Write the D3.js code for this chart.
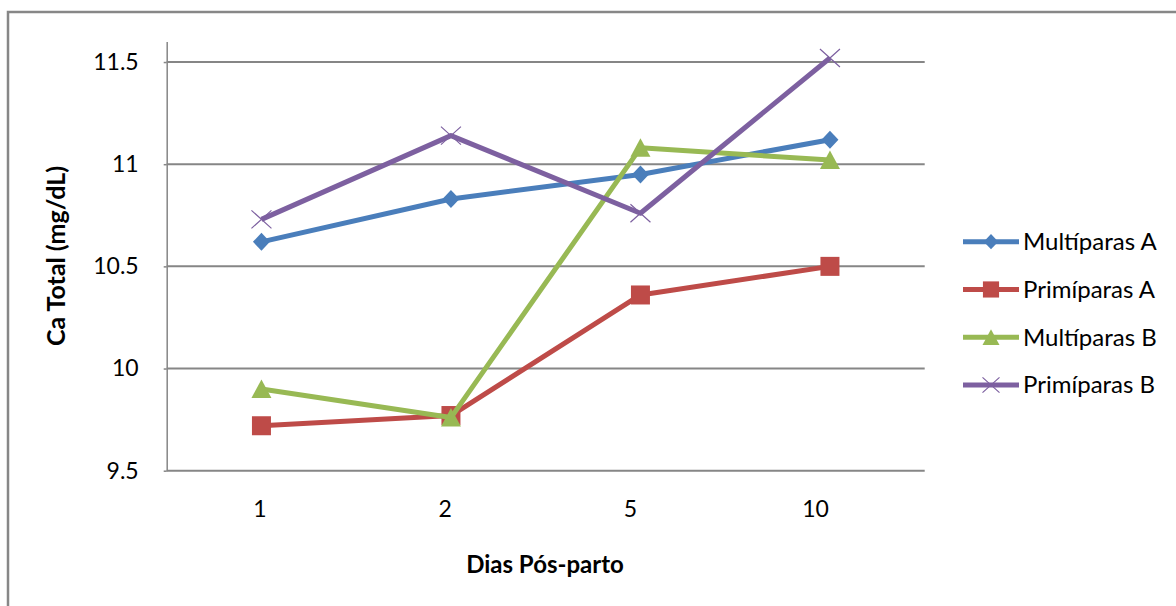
<!DOCTYPE html>
<html>
<head>
<meta charset="utf-8">
<script src="https://cdn.jsdelivr.net/npm/d3@7"></script>
<style>
  html, body { margin: 0; padding: 0; background: #fff; }
  svg { display: block; }
  text { font-family: Lato, "Open Sans", sans-serif; fill: #000; }
</style>
</head>
<body>
<svg id="chart" width="1176" height="606"></svg>
<script>
// Days after calving (categories)
const days = ["1", "2", "5", "10"];

// Total Ca (mg/dL) per group
const multiparasA = [10.62, 10.83, 10.95, 11.12];
const primiparasA = [9.72, 9.77, 10.36, 10.50];
const multiparasB = [9.90, 9.76, 11.08, 11.02];
const primiparasB = [10.73, 11.14, 10.76, 11.52];

const seriesNames = ["Multíparas A", "Primíparas A", "Multíparas B", "Primíparas B"];
const yTicks = [9.5, 10, 10.5, 11, 11.5];
const yTickLabels = ["9.5", "10", "10.5", "11", "11.5"];

const series = [
  { name: seriesNames[0], values: multiparasA, color: "#4A7EBB", marker: "diamond" },
  { name: seriesNames[1], values: primiparasA, color: "#BE4B48", marker: "square" },
  { name: seriesNames[2], values: multiparasB, color: "#98B954", marker: "triangle" },
  { name: seriesNames[3], values: primiparasB, color: "#7D60A0", marker: "x" }
];

const svg = d3.select("#chart");
const plot = { left: 166.7, right: 924.7, top: 41.6, bottom: 470.7 };
const gridColor = "#868686";

// outer chart frame
svg.append("rect")
  .attr("x", 8).attr("y", 12)
  .attr("width", 1300).attr("height", 800)
  .attr("fill", "none")
  .attr("stroke", "#878787")
  .attr("stroke-width", 2.5);

const x = d3.scalePoint().domain(days).range([plot.left, plot.right]).padding(0.5);
const xLabels = d3.scalePoint().domain(days).range([plot.left, plot.left + 741]).padding(0.5);
const y = d3.scaleLinear().domain([9.5, 11.6]).range([plot.bottom, plot.top]);

// horizontal gridlines
svg.append("g")
  .selectAll("line")
  .data(yTicks.filter(t => t > 9.5))
  .join("line")
  .attr("x1", plot.left).attr("x2", plot.right)
  .attr("y1", d => y(d)).attr("y2", d => y(d))
  .attr("stroke", gridColor)
  .attr("stroke-width", 2);

// value axis
const yAxis = d3.axisLeft(y)
  .tickValues(yTicks)
  .tickFormat((d, i) => yTickLabels[i])
  .tickSize(3)
  .tickPadding(25)
  .tickSizeOuter(0);
const gy = svg.append("g").attr("transform", `translate(${plot.left},0)`).call(yAxis);
gy.select(".domain").attr("stroke", gridColor).attr("stroke-width", 1.5);
gy.selectAll(".tick line").attr("stroke", gridColor).attr("stroke-width", 1.5);
gy.selectAll(".tick text").attr("font-size", 23).attr("fill", "#000");

// category axis
svg.append("line")
  .attr("x1", plot.left).attr("x2", plot.right)
  .attr("y1", plot.bottom).attr("y2", plot.bottom)
  .attr("stroke", gridColor).attr("stroke-width", 2);

const xAxis = d3.axisBottom(xLabels).tickSize(0).tickPadding(30).tickSizeOuter(0);
const gx = svg.append("g").attr("transform", `translate(0,${plot.bottom})`).call(xAxis);
gx.select(".domain").remove();
gx.selectAll(".tick text").attr("font-size", 23).attr("fill", "#000");

// axis titles
svg.append("text")
  .attr("x", 545).attr("y", 573)
  .attr("text-anchor", "middle")
  .attr("font-size", 24).attr("font-weight", "bold")
  .text("Dias Pós-parto");

svg.append("text")
  .attr("transform", "translate(65,256) rotate(-90)")
  .attr("text-anchor", "middle")
  .attr("font-size", 25).attr("font-weight", "bold")
  .text("Ca Total (mg/dL)");

// marker shapes
function drawMarker(g, type, color, s) {
  if (type === "diamond") {
    g.append("path")
      .attr("d", `M0,${-9 * s}L${8.5 * s},0L0,${9 * s}L${-8.5 * s},0Z`)
      .attr("fill", color);
  } else if (type === "square") {
    g.append("rect")
      .attr("x", -9.5 * s).attr("y", -9.5 * s)
      .attr("width", 19 * s).attr("height", 19 * s)
      .attr("fill", color);
  } else if (type === "triangle") {
    g.append("path")
      .attr("d", `M0,${-9.5 * s}L${10 * s},${9 * s}L${-10 * s},${9 * s}Z`)
      .attr("fill", color);
  } else if (type === "x") {
    g.append("path")
      .attr("d", `M${-10 * s},${-9 * s}L${10 * s},${9 * s}M${10 * s},${-9 * s}L${-10 * s},${9 * s}`)
      .attr("stroke", color)
      .attr("stroke-width", 1.2)
      .attr("fill", "none");
  }
}

const line = d3.line()
  .x((d, i) => x(days[i]))
  .y(d => y(d));

// series lines and markers
series.forEach(s => {
  const g = svg.append("g");
  g.append("path")
    .attr("d", line(s.values))
    .attr("fill", "none")
    .attr("stroke", s.color)
    .attr("stroke-width", 5)
    .attr("stroke-linejoin", "round");
  s.values.forEach((v, i) => {
    const m = g.append("g").attr("transform", `translate(${x(days[i])},${y(v)})`);
    drawMarker(m, s.marker, s.color, 1);
  });
});

// legend
const legend = svg.append("g");
const legendY = d3.scalePoint().domain(seriesNames).range([241.7, 385]);
series.forEach(s => {
  const cy = legendY(s.name);
  const g = legend.append("g").attr("transform", `translate(0,${cy})`);
  g.append("line")
    .attr("x1", 963).attr("x2", 1019)
    .attr("y1", 0).attr("y2", 0)
    .attr("stroke", s.color).attr("stroke-width", 5);
  const m = g.append("g").attr("transform", "translate(991,0)");
  drawMarker(m, s.marker, s.color, 0.85);
  g.append("text")
    .attr("x", 1023).attr("y", 0)
    .attr("dy", "0.35em")
    .attr("font-size", 24)
    .text(s.name);
});
</script>
</body>
</html>
